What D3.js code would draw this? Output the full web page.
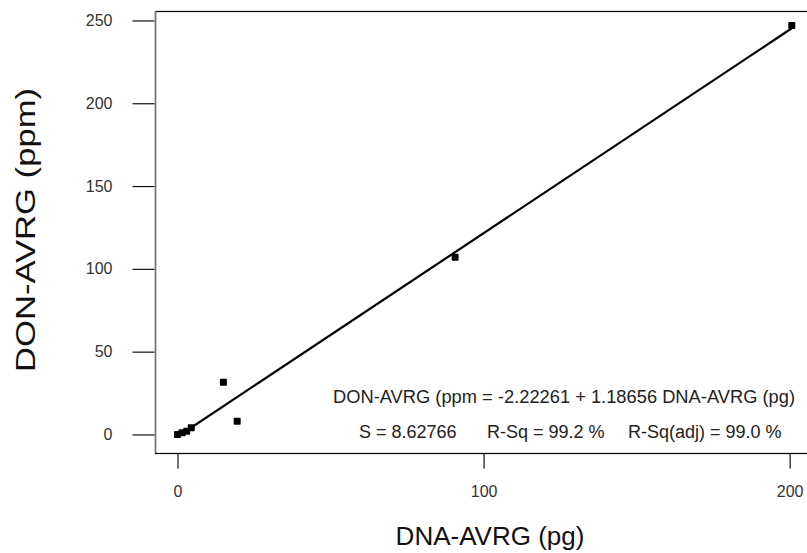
<!DOCTYPE html>
<html><head><meta charset="utf-8">
<script src="https://cdn.jsdelivr.net/npm/d3@7"></script>
<style>body{margin:0;background:#fff}svg{display:block}text{font-family:"Liberation Sans",Arial,sans-serif}</style>
</head><body>
<svg id="c" width="807" height="553"></svg>
<script>
const dnaValues = [0, 1.5, 3, 4.5, 15, 19.5, 90.7, 200.7];
const donValues = [0, 1, 2, 4, 31.5, 8, 107, 247];
const xTicks = [0, 100, 200];
const yTicks = [0, 50, 100, 150, 200, 250];
const xTitle = "DNA-AVRG (pg)";
const yTitle = "DON-AVRG (ppm)";
const eqLine = "DON-AVRG (ppm = -2.22261 + 1.18656 DNA-AVRG (pg)";
const statLabels = ["S = 8.62766", "R-Sq = 99.2 %", "R-Sq(adj) = 99.0 %"];

const svg = d3.select("#c");
const L = 155, T = 11, R = 812, B = 453;
const x = d3.scaleLinear().domain([-7.35, 207.3]).range([L, R]);
const y = d3.scaleLinear().domain([-11.2, 255.7]).range([B, T]);

// frame
svg.append("rect").attr("x", L + 0.5).attr("y", T + 0.5).attr("width", R - L).attr("height", B - T)
  .attr("fill", "none").attr("stroke", "#000").attr("stroke-width", 1.2);
svg.append("line").attr("x1", L + 0.5).attr("x2", L + 0.5).attr("y1", T).attr("y2", B)
  .attr("stroke", "#777").attr("stroke-width", 1.5);

// axes
const ya = svg.append("g").attr("transform", `translate(${L - 0.5},0)`)
  .call(d3.axisLeft(y).tickValues(yTicks).tickSize(22).tickSizeOuter(0).tickPadding(20));
ya.select(".domain").remove();
ya.selectAll("line").attr("stroke", "#111").attr("stroke-width", 1.2);
ya.selectAll("text").attr("font-size", 16).attr("fill", "#333");

const xa = svg.append("g").attr("transform", `translate(0,${B + 0.5})`)
  .call(d3.axisBottom(x).tickValues(xTicks).tickSize(15).tickSizeOuter(0).tickPadding(17));
xa.select(".domain").remove();
xa.selectAll("line").attr("stroke", "#111").attr("stroke-width", 1.2);
xa.selectAll("text").attr("font-size", 16).attr("fill", "#333");

// regression line (least squares from data)
const n = dnaValues.length;
const mx = d3.mean(dnaValues), my = d3.mean(donValues);
let sxy = 0, sxx = 0;
for (let i = 0; i < n; i++) { sxy += (dnaValues[i] - mx) * (donValues[i] - my); sxx += (dnaValues[i] - mx) ** 2; }
const slope = sxy / sxx, icpt = my - slope * mx;
const x0 = d3.min(dnaValues), x1 = d3.max(dnaValues);
svg.append("line").attr("x1", x(x0)).attr("y1", y(icpt + slope * x0))
  .attr("x2", x(x1)).attr("y2", y(icpt + slope * x1))
  .attr("stroke", "#000").attr("stroke-width", 2.2);

// points
svg.append("g").selectAll("rect").data(dnaValues).join("rect")
  .attr("x", (d) => x(d) - 3.5).attr("y", (d, i) => y(donValues[i]) - 3.5)
  .attr("width", 7).attr("height", 7).attr("rx", 1).attr("fill", "#000");

// annotation
svg.append("text").attr("x", 564).attr("y", 403).attr("text-anchor", "middle")
  .attr("font-size", 18).attr("fill", "#222").attr("textLength", 462).attr("lengthAdjust", "spacingAndGlyphs").text(eqLine);
const statX = [359, 487, 628];
statLabels.forEach((s, i) => svg.append("text").attr("x", statX[i]).attr("y", 438)
  .attr("font-size", 18).attr("fill", "#222").text(s));

// titles
svg.append("text").attr("x", 490).attr("y", 545).attr("text-anchor", "middle")
  .attr("font-size", 26).attr("fill", "#111").text(xTitle);
svg.append("text").attr("transform", "translate(35,230) rotate(-90)").attr("text-anchor", "middle")
  .attr("font-size", 27).attr("fill", "#111")
  .attr("textLength", 284).attr("lengthAdjust", "spacingAndGlyphs").text(yTitle);
</script>
</body></html>
